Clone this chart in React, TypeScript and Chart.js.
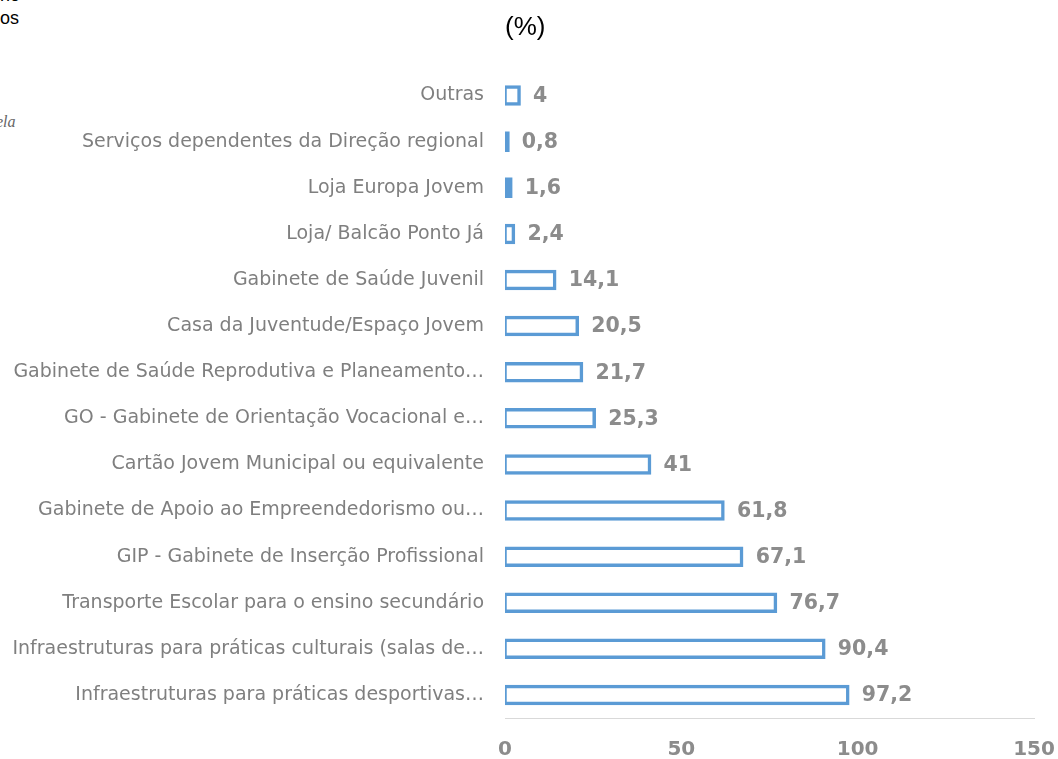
import React, { useEffect, useRef } from "react";
import { Chart, registerables } from "chart.js";

Chart.register(...registerables);

const categories: string[] = [
  "Outras",
  "Serviços dependentes da Direção regional",
  "Loja Europa Jovem",
  "Loja/ Balcão Ponto Já",
  "Gabinete de Saúde Juvenil",
  "Casa da Juventude/Espaço Jovem",
  "Gabinete de Saúde Reprodutiva e Planeamento…",
  "GO - Gabinete de Orientação Vocacional e…",
  "Cartão Jovem Municipal ou equivalente",
  "Gabinete de Apoio ao Empreendedorismo ou…",
  "GIP - Gabinete de Inserção Profissional",
  "Transporte Escolar para o ensino secundário",
  "Infraestruturas para práticas culturais (salas de…",
  "Infraestruturas para práticas desportivas…",
];

const values: number[] = [4, 0.8, 1.6, 2.4, 14.1, 20.5, 21.7, 25.3, 41, 61.8, 67.1, 76.7, 90.4, 97.2];

const xTicks: number[] = [0, 50, 100, 150];

const titleText = "(%)";

const BLUE = "#5b9bd5";

const valueLabelPlugin = {
  id: "valueLabels",
  afterDatasetsDraw(chart: any) {
    const ctx = chart.ctx;
    const meta = chart.getDatasetMeta(0);
    ctx.save();
    ctx.font = "bold 20.5px 'DejaVu Sans'";
    ctx.fillStyle = "#8c8c8c";
    ctx.textAlign = "left";
    ctx.textBaseline = "middle";
    meta.data.forEach((bar: any, i: number) => {
      const txt = String(values[i]).replace(".", ",");
      ctx.fillText(txt, bar.x + 14, bar.y + 1);
    });
    ctx.restore();
  },
};

const titlePlugin = {
  id: "topTitle",
  afterDraw(chart: any) {
    const ctx = chart.ctx;
    ctx.save();
    ctx.font = "26px 'Liberation Sans'";
    ctx.fillStyle = "#000000";
    ctx.textAlign = "left";
    ctx.textBaseline = "middle";
    ctx.fillText(titleText, 505, 28);
    ctx.restore();
  },
};

export default function App() {
  const ref = useRef<HTMLCanvasElement | null>(null);

  useEffect(() => {
    if (!ref.current) return;
    const chart = new Chart(ref.current, {
      type: "bar",
      data: {
        labels: categories,
        datasets: [
          {
            data: values,
            backgroundColor: (c: any) => (values[c.dataIndex] < 2 ? BLUE : "#ffffff"),
            borderColor: BLUE,
            borderWidth: (c: any) => (values[c.dataIndex] < 2 ? 0 : 3.5),
            borderSkipped: false,
            inflateAmount: 1.75,
            barThickness: 17,
          },
        ],
      },
      options: {
        indexAxis: "y",
        animation: false,
        responsive: false,
        maintainAspectRatio: false,
        layout: { padding: { top: 72.5, right: 0, left: 0, bottom: 0 } },
        plugins: {
          legend: { display: false },
          tooltip: { enabled: false },
          title: { display: false },
        },
        scales: {
          x: {
            min: 0,
            max: 150,
            afterBuildTicks: (scale: any) => {
              scale.ticks = xTicks.map((v) => ({ value: v }));
            },
            afterFit: (scale: any) => {
              scale.height = 41;
              scale.paddingLeft = 0;
              scale.paddingRight = 24;
            },
            grid: { display: false, drawTicks: false },
            border: { display: true, color: "#d9d9d9", width: 1 },
            ticks: {
              padding: 20,
              color: "#8c8c8c",
              font: { family: "'DejaVu Sans'", size: 20, weight: "bold" },
              maxRotation: 0,
            },
          },
          y: {
            afterFit: (scale: any) => {
              scale.width = 505;
            },
            grid: { display: false, drawTicks: false },
            border: { display: false },
            ticks: {
              padding: 21,
              color: "#7f7f7f",
              font: { family: "'DejaVu Sans'", size: 19 },
              autoSkip: false,
            },
          },
        },
      },
      plugins: [valueLabelPlugin, titlePlugin],
    });
    return () => chart.destroy();
  }, []);

  return (
    <div style={{ position: "fixed", left: 0, top: 0, width: 1058, height: 759, background: "#fff", overflow: "hidden" }}>
      <div style={{ position: "absolute", left: 0, top: -15, font: "18px 'Liberation Sans'", color: "#000", lineHeight: "20px" }}>
        no
      </div>
      <div style={{ position: "absolute", left: 0, top: 8, font: "18px 'Liberation Sans'", color: "#000", lineHeight: "20px" }}>
        os
      </div>
      <div style={{ position: "absolute", left: -4, top: 112, font: "italic 16px 'Liberation Serif'", color: "#666", lineHeight: "20px" }}>
        ela
      </div>
      <canvas ref={ref} width={1058} height={759} style={{ position: "absolute", left: 0, top: 0, width: 1058, height: 759 }} />
    </div>
  );
}
